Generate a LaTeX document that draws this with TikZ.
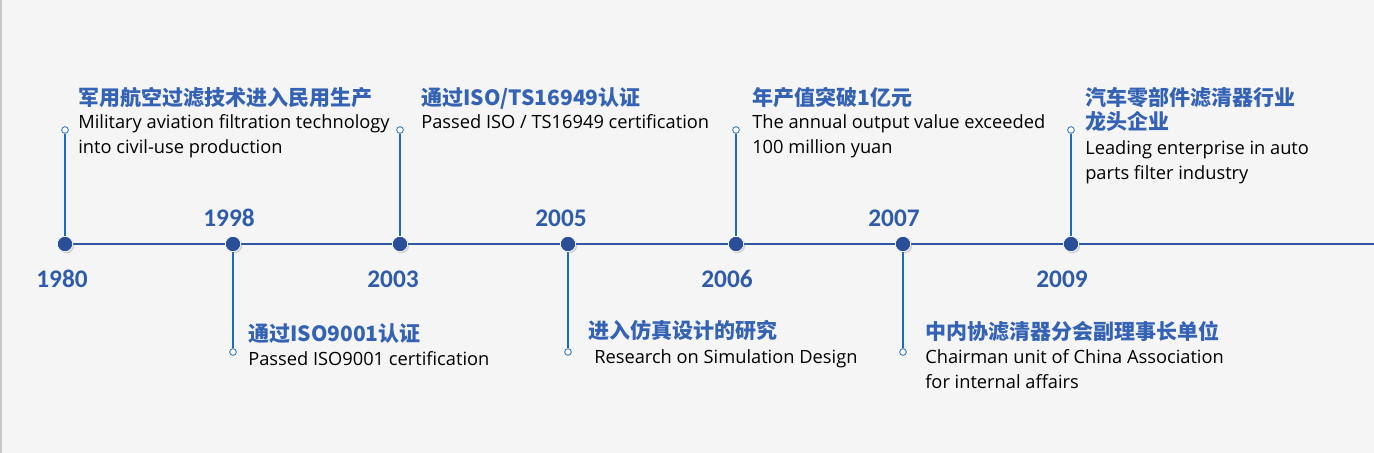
\documentclass[tikz,border=0pt]{standalone}
\usepackage{fontspec}
\setmainfont{Open Sans}
\newfontfamily\yearfont{Carlito}
\newfontfamily\cjkfont{Noto Sans CJK SC}
\usetikzlibrary{positioning,shadows,backgrounds}
\definecolor{tlAxis}{RGB}{46,88,163}
\definecolor{tlDot}{RGB}{42,78,152}
\definecolor{tlStem}{RGB}{30,108,190}
\definecolor{tlYear}{RGB}{46,92,171}
\definecolor{tlTitle}{RGB}{52,98,180}
\definecolor{tlBack}{RGB}{245,245,245}
\definecolor{tlFrame}{RGB}{200,200,200}

\begin{document}
\begin{tikzpicture}[x=0.75pt, y=-0.75pt,
    milestone/.style={circle, fill=tlDot, draw=white, line width=0.5pt,
                      minimum size=11.5pt, inner sep=0pt,
                      drop shadow={shadow xshift=1.2pt, shadow yshift=-1.2pt, opacity=0.3}},
    tip/.style={circle, draw=tlStem, fill=white, line width=0.6pt,
                minimum size=5pt, inner sep=0pt},
    year/.style={anchor=base, inner sep=0pt, text=tlYear,
                 font=\yearfont\bfseries\fontsize{19}{22}\selectfont},
    title/.style={anchor=base west, inner sep=0pt, text=tlTitle, align=left,
                  font=\cjkfont\bfseries\fontsize{15.75}{18}\selectfont},
    desc/.style={anchor=base west, inner sep=0pt, align=left,
                 font=\fontsize{13.7}{18.75}\selectfont},
    axis/.style={tlAxis, line width=1.6pt},
    stem/.style={tlStem, line width=1.5pt}
  ]
  \useasboundingbox (0,0) rectangle (1374,453);

  % milestones on the axis
  \node[milestone] (d1980) at (65,244) {};
  \node[milestone] (d1998) at (233,244) {};
  \node[milestone] (d2003) at (400,244) {};
  \node[milestone] (d2005) at (568,244) {};
  \node[milestone] (d2006) at (736,244) {};
  \node[milestone] (d2007) at (903,244) {};
  \node[milestone] (d2009) at (1071,244) {};
  \coordinate (axisend) at (1374,244);

  % stem ends
  \node[tip] (t1980) at (65,130) {};
  \node[tip] (t1998) at (233,352) {};
  \node[tip] (t2003) at (400,130) {};
  \node[tip] (t2005) at (568,352) {};
  \node[tip] (t2006) at (736,130) {};
  \node[tip] (t2007) at (903,352) {};
  \node[tip] (t2009) at (1071,130) {};

  % years
  \node[year] (y1980) at (62,287) {1980};
  \node[year] (y1998) at (229,226) {1998};
  \node[year] (y2003) at (393,287) {2003};
  \node[year] (y2005) at (561,226) {2005};
  \node[year] (y2006) at (727,287) {2006};
  \node[year] (y2007) at (894,226) {2007};
  \node[year] (y2009) at (1062,287) {2009};

  % events (multi-line nodes sit on their last baseline)
  \node[title] (h1980) at (78,105) {军用航空过滤技术进入民用生产};
  \node[desc]  (e1980) at (78,153) {Military aviation filtration technology\\into civil-use production};
  \node[title] (h1998) at (248,341) {通过ISO9001认证};
  \node[desc]  (e1998) at (248,365) {Passed ISO9001 certification};
  \node[title] (h2003) at (421,105) {通过ISO/TS16949认证};
  \node[desc]  (e2003) at (421,128) {Passed ISO / TS16949 certification};
  \node[title] (h2005) at (588,338) {进入仿真设计的研究};
  \node[desc]  (e2005) at (594,363) {Research on Simulation Design};
  \node[title] (h2006) at (752,105) {年产值突破1亿元};
  \node[desc]  (e2006) at (752,153) {The annual output value exceeded\\100 million yuan};
  \node[title] (h2007) at (925,339) {中内协滤清器分会副理事长单位};
  \node[desc]  (e2007) at (925,388) {Chairman unit of China Association\\for internal affairs};
  \node[title] (h2009) at (1085,129) {汽车零部件滤清器行业\\龙头企业};
  \node[desc]  (e2009) at (1085,179) {Leading enterprise in auto\\parts filter industry};

  \begin{scope}[on background layer]
    \fill[tlBack] (0,0) rectangle (1374,453);
    \draw[tlFrame, line width=1pt] (1,0) -- (1,453);
    % axis
    \draw[axis] (d1980.center) -- (axisend);
    % stems
    \draw[stem] (d1980) -- (t1980);
    \draw[stem] (d1998) -- (t1998);
    \draw[stem] (d2003) -- (t2003);
    \draw[stem] (d2005) -- (t2005);
    \draw[stem] (d2006) -- (t2006);
    \draw[stem] (d2007) -- (t2007);
    \draw[stem] (d2009) -- (t2009);
  \end{scope}
\end{tikzpicture}
\end{document}
